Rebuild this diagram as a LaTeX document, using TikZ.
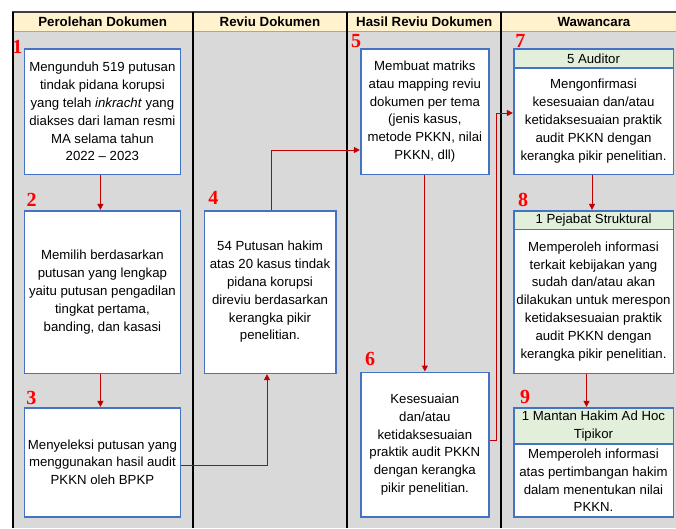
\documentclass[tikz,border=0pt]{standalone}
\usepackage{fontspec}
\setmainfont{Liberation Sans}
\newfontfamily\angka{Liberation Serif}
\usetikzlibrary{arrows.meta}
\definecolor{merah}{HTML}{C00000}
\definecolor{biru}{HTML}{4472C4}
\definecolor{hijau}{HTML}{E2EFDA}
\definecolor{kuning}{HTML}{FFF2CC}
\definecolor{abu}{HTML}{D9D9D9}
\tikzset{
  kotak/.style={draw=biru,line width=1.6pt,fill=white,align=center,inner sep=0pt,
    font=\fontsize{13.2}{17.8}\selectfont},
  kepala/.style={kotak,fill=hijau},
  panah/.style={draw=merah,line width=1pt,-{Triangle[length=6pt,width=6pt]}},
  nomor/.style={text=red,anchor=base,inner sep=0pt,
    font=\angka\bfseries\fontsize{20}{20}\selectfont},
  judul/.style={anchor=base,inner sep=0pt,font=\bfseries\fontsize{13.3}{16}\selectfont},
  garis/.style={line width=2pt}
}
\begin{document}
\begin{tikzpicture}[x=1pt,y=-1pt]
\useasboundingbox (0,0) rectangle (676,528);
% tabel
\fill[abu] (12,31) rectangle (676,528);
\fill[kuning] (12,12) rectangle (676,31);
\draw[gray!70,line width=1pt] (12,31) -- (676,31);
\draw[black!75,line width=2pt] (12,12) -- (676,12);
\foreach \x in {12.5,192.7,347.3,501}
  \draw[garis] (\x,12) -- (\x,528);
\node[judul] (j1) at (102.6,26) {Perolehan Dokumen};
\node[judul] (j2) at (270,26) {Reviu Dokumen};
\node[judul] (j3) at (424.2,26) {Hasil Reviu Dokumen};
\node[judul] (j4) at (594,26) {Wawancara};
% kotak
\node[kotak,minimum width=155.8pt,minimum height=125.5pt] (b1) at (102.4,111.75)
  {Mengunduh 519 putusan\\tindak pidana korupsi\\yang telah \textit{inkracht} yang\\diakses dari laman resmi\\MA selama tahun\\2022 -- 2023};
\node[kotak,minimum width=155.8pt,minimum height=162.6pt] (b2) at (102.4,292)
  {Memilih berdasarkan\\putusan yang lengkap\\yaitu putusan pengadilan\\tingkat pertama,\\banding, dan kasasi};
\node[kotak,minimum width=155.8pt,minimum height=109pt] (b3) at (102.4,462.2)
  {Menyeleksi putusan yang\\menggunakan hasil audit\\PKKN oleh BPKP};
\node[kotak,minimum width=131.4pt,minimum height=162.6pt] (b4) at (270,292)
  {54 Putusan hakim\\atas 20 kasus tindak\\pidana korupsi\\direviu berdasarkan\\kerangka pikir\\penelitian.};
\node[kotak,minimum width=128.3pt,minimum height=125.3pt] (b5) at (424.85,111.65)
  {Membuat matriks\\atau mapping reviu\\dokumen per tema\\(jenis kasus,\\metode PKKN, nilai\\PKKN, dll)};
\node[kotak,minimum width=128.3pt,minimum height=144.4pt] (b6) at (424.85,444.5)
  {Kesesuaian\\dan/atau\\ketidaksesuaian\\praktik audit PKKN\\dengan kerangka\\pikir penelitian.};
\node[kepala,minimum width=159.6pt,minimum height=19pt] (h7) at (593.5,58.5) {5 Auditor};
\node[kotak,minimum width=159.6pt,minimum height=106.3pt] (b7) at (593.5,121.15)
  {Mengonfirmasi\\kesesuaian dan/atau\\ketidaksesuaian praktik\\audit PKKN dengan\\kerangka pikir penelitian.};
\node[kepala,minimum width=159.6pt,minimum height=18.6pt] (h8) at (593.5,220) {1 Pejabat Struktural};
\node[kotak,minimum width=159.6pt,minimum height=144pt] (b8) at (593.5,301.3)
  {Memperoleh informasi\\terkait kebijakan yang\\sudah dan/atau akan\\dilakukan untuk merespon\\ketidaksesuaian praktik\\audit PKKN dengan\\kerangka pikir penelitian.};
\node[kepala,minimum width=159.6pt,minimum height=36.3pt] (h9) at (593.5,425.85)
  {1 Mantan Hakim Ad Hoc\\Tipikor};
\node[kotak,minimum width=159.6pt,minimum height=72.7pt] (b9) at (593.5,480.35)
  {Memperoleh informasi\\atas pertimbangan hakim\\dalam menentukan nilai\\PKKN.};
% nomor
\node[nomor] (n1) at (17.5,53.3) {1};
\node[nomor] (n2) at (31.7,206) {2};
\node[nomor] (n3) at (31.3,404.3) {3};
\node[nomor] (n4) at (213.3,204) {4};
\node[nomor] (n5) at (356.2,47.7) {5};
\node[nomor] (n6) at (370,365) {6};
\node[nomor] (n7) at (520.3,47.7) {7};
\node[nomor] (n8) at (523,206) {8};
\node[nomor] (n9) at (525,403.3) {9};
% panah
\draw[panah] ([xshift=-2pt]b1.south) -- ([xshift=-2pt]b2.north);
\draw[panah] ([xshift=-2pt]b2.south) -- ([xshift=-2pt]b3.north);
\draw[panah] (b3.east |- 0,465) -| ([xshift=-3pt]b4.south);
\draw[panah] ([xshift=1pt]b4.north) |- (b5.west |- 0,150);
\draw[panah] (b5.south) -- (b6.north);
\draw[panah] (b6.east |- 0,440) -- ++(7,0) |- (b7.west |- 0,113);
\draw[panah] ([xshift=-1.5pt]b7.south) -- ([xshift=-1.5pt]h8.north);
\draw[panah] ([xshift=-7pt]b8.south) -- ([xshift=-7pt]h9.north);
\end{tikzpicture}
\end{document}
